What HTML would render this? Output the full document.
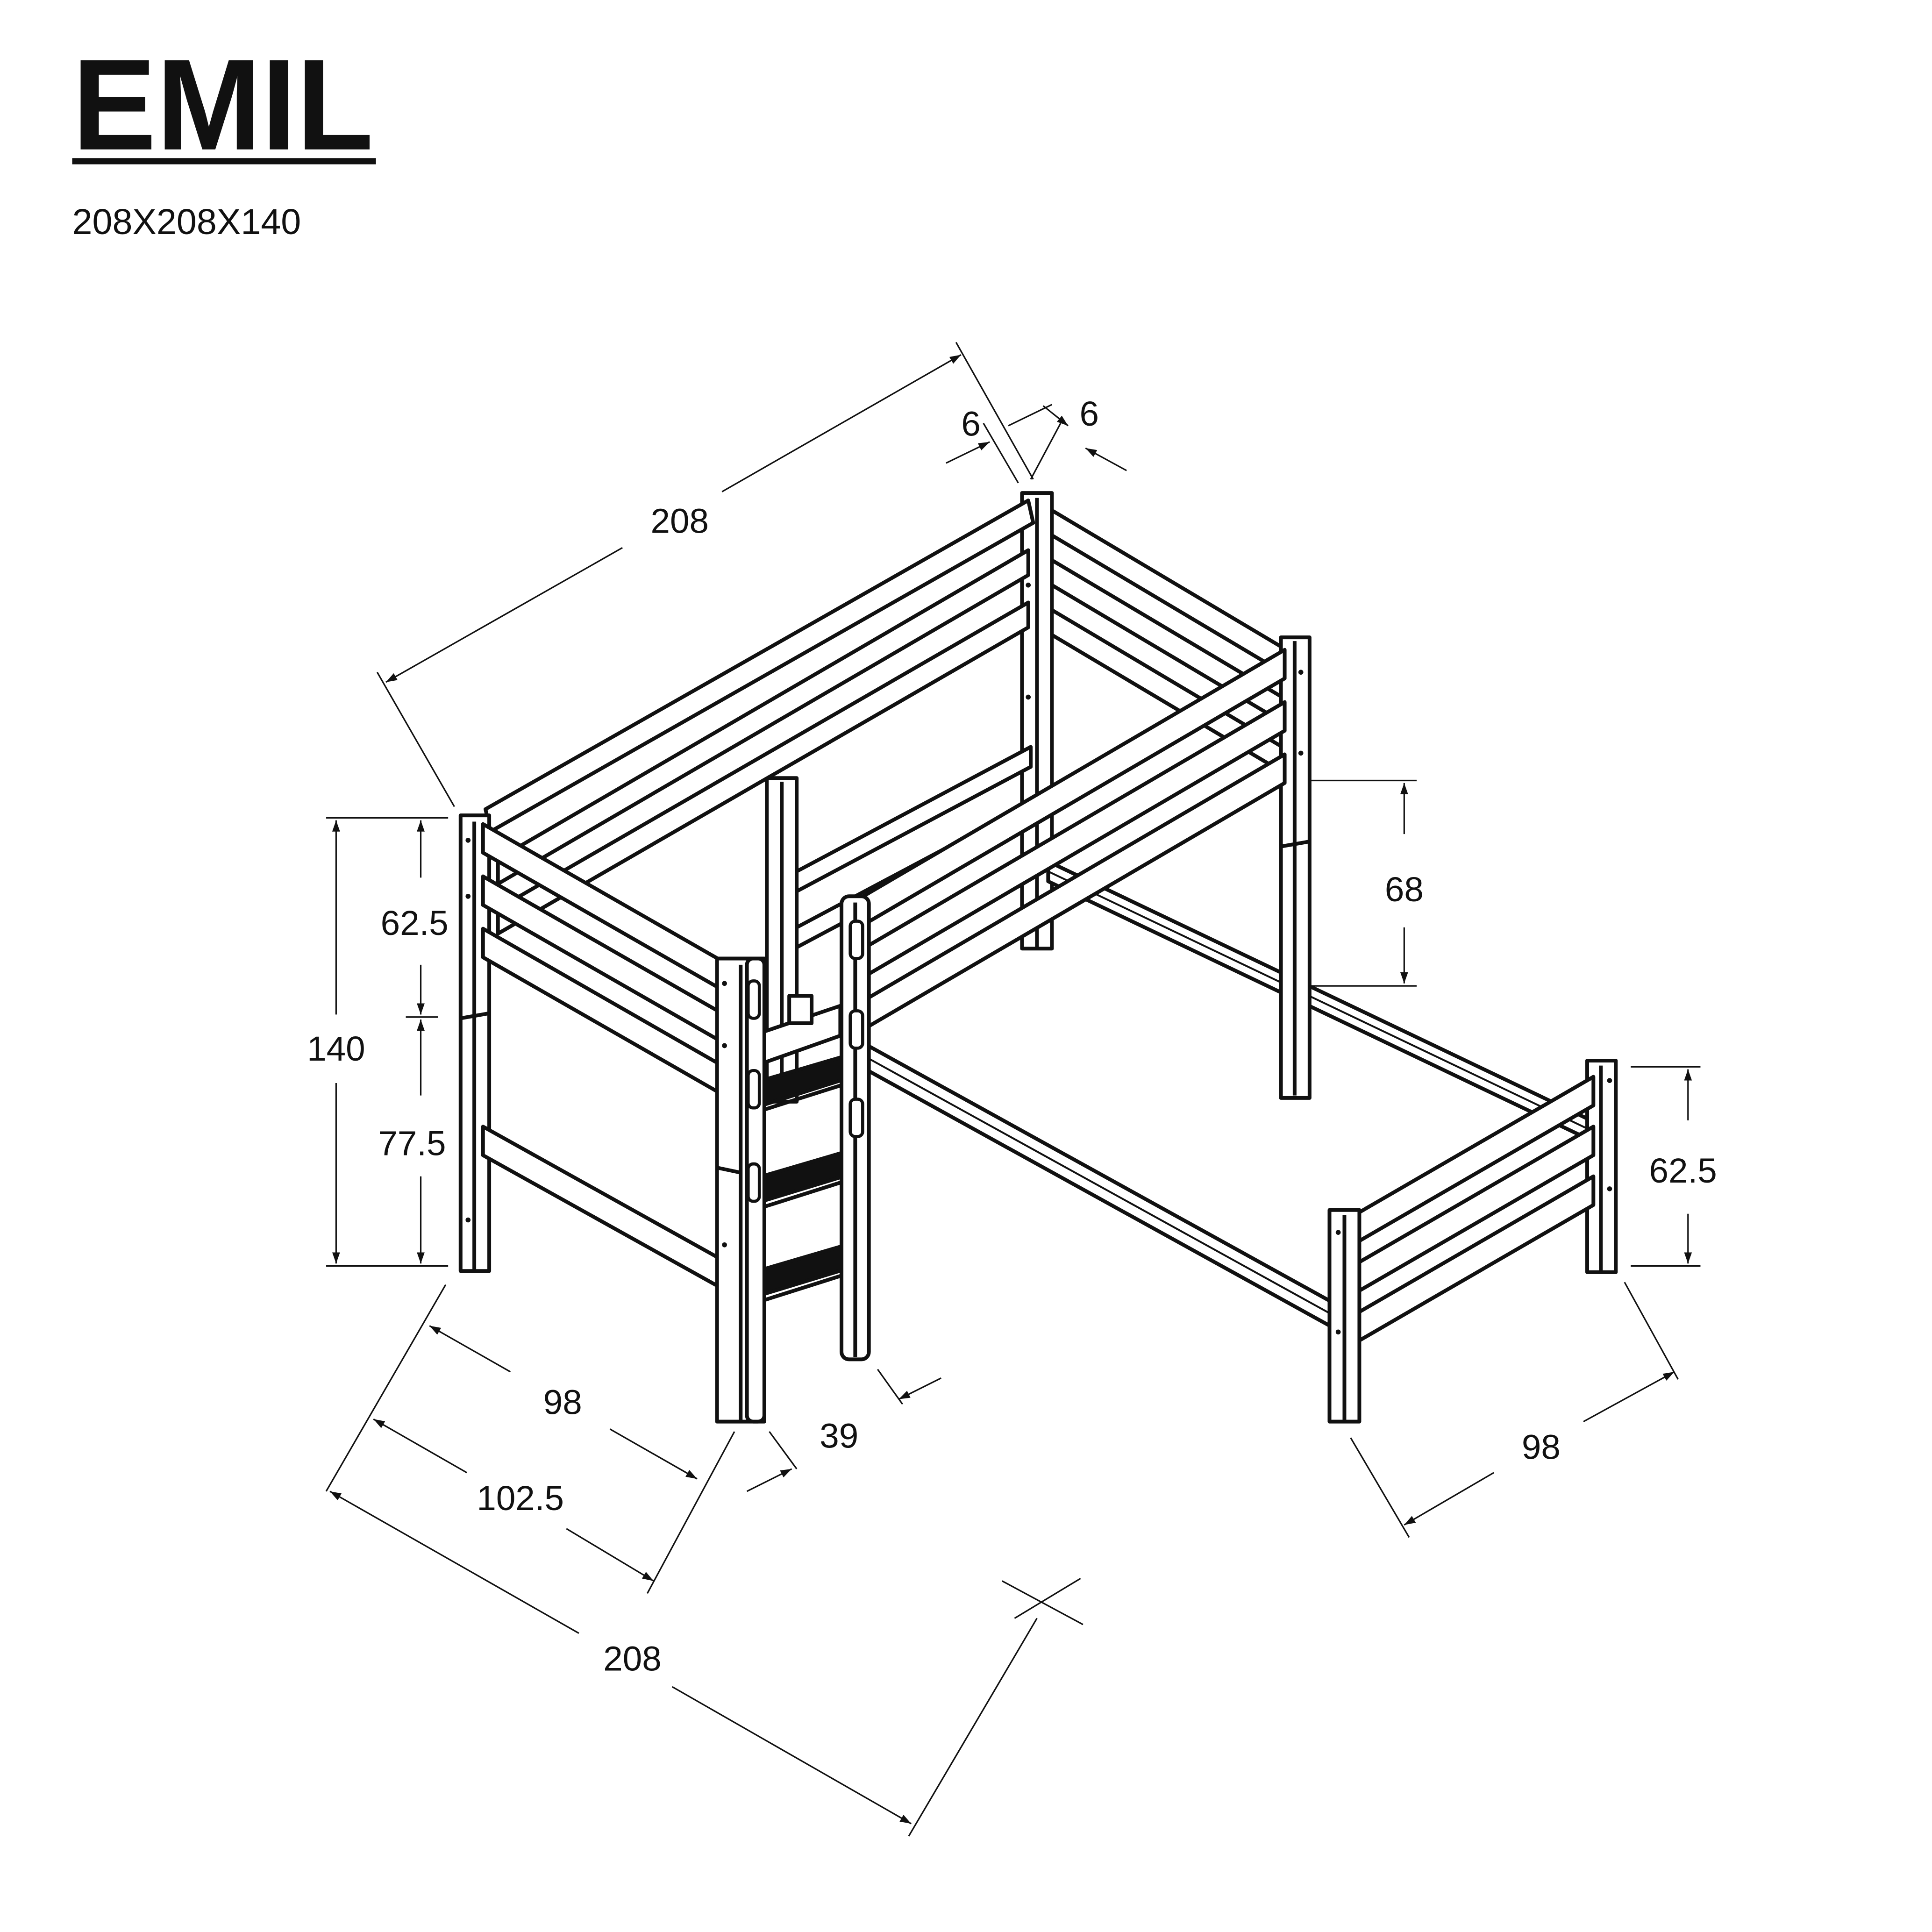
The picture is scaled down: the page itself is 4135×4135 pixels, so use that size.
<!DOCTYPE html>
<html><head><meta charset="utf-8"><style>
html,body{margin:0;padding:0;background:#fff}
svg{display:block}
text{font-family:"Liberation Sans",sans-serif;fill:#111}
</style></head><body>
<svg width="4135" height="4135" viewBox="0 0 1552 1552" xmlns="http://www.w3.org/2000/svg">
<defs>
<marker id="a" viewBox="0 0 10 10" refX="10" refY="5" markerWidth="9" markerHeight="9" markerUnits="userSpaceOnUse" orient="auto-start-reverse"><path d="M0,1.5 L10,5 L0,8.5z" fill="#111"/></marker>
</defs>
<rect width="1552" height="1552" fill="#fff"/>
<text x="58" y="120" font-size="104" font-weight="bold" textLength="242" lengthAdjust="spacingAndGlyphs">EMIL</text>
<rect x="58" y="127" width="244" height="5" fill="#111"/>
<text x="58" y="188" font-size="29">208X208X140</text>

<g stroke="#111" stroke-width="3" fill="#fff" stroke-linejoin="round">
<!-- back post -->
<rect x="821" y="396" width="24" height="366"/>
<line x1="833" y1="400" x2="833" y2="762"/>
<!-- lower bed back long rail -->
<polygon points="842,692 1278,900 1278,916 842,708"/>
<line x1="842" y1="700" x2="1278" y2="908" stroke-width="1.5"/>
<!-- right side rails of loft -->
<polygon points="845,410 1030,520 1030,540 845,430"/>
<polygon points="845,450 1030,560 1030,580 845,470"/>
<polygon points="845,490 1030,600 1030,620 845,510"/>
<!-- right post -->
<rect x="1029" y="512" width="23" height="370"/>
<line x1="1040" y1="515" x2="1040" y2="880"/>
<line x1="1029" y1="680" x2="1052" y2="676"/>
<!-- inner post -->
<rect x="616" y="625" width="24" height="260"/>
<line x1="628" y1="628" x2="628" y2="885"/>
<!-- inner rails behind -->
<polygon points="640,700 828,600 828,616 640,716"/>
<polygon points="640,745 828,645 828,661 640,761"/>
<!-- left long rails -->
<polygon points="390,650 826,402 830,420 394,668"/>
<polygon points="400,690 826,442 826,462 400,710"/>
<polygon points="400,730 826,484 826,504 400,750"/>
<!-- left post -->
<rect x="370" y="655" width="23" height="366"/>
<line x1="381" y1="660" x2="381" y2="1020"/>
<line x1="370" y1="818" x2="393" y2="814"/>
<!-- left short end rails -->
<polygon points="388,662 580,772 580,795 388,685"/>
<polygon points="388,704 580,814 580,837 388,727"/>
<polygon points="388,746 580,856 580,879 388,769"/>
<polygon points="388,905 580,1012 580,1035 388,928"/>
<!-- lower bed front long rail -->
<polygon points="690,836 1070,1046 1070,1066 690,856"/>
<line x1="690" y1="846" x2="1070" y2="1056" stroke-width="1.5"/>
<!-- lower bed head post + rails -->
<rect x="1275" y="852" width="23" height="170"/>
<line x1="1286" y1="856" x2="1286" y2="1022"/>
<polygon points="1090,975 1280,865 1280,888 1090,998"/>
<polygon points="1090,1015 1280,905 1280,928 1090,1038"/>
<polygon points="1090,1055 1280,945 1280,968 1090,1078"/>
<!-- foot post -->
<rect x="1068" y="972" width="24" height="170"/>
<line x1="1080" y1="976" x2="1080" y2="1142"/>
<!-- front long rails of loft -->
<polygon points="690,722 1032,522 1032,545 690,745"/>
<polygon points="690,764 1032,564 1032,587 690,787"/>
<polygon points="690,806 1032,606 1032,629 690,829"/>
<!-- ladder front post -->
<rect x="576" y="770" width="38" height="372"/>
<line x1="595" y1="775" x2="595" y2="1142"/>
<line x1="576" y1="938" x2="595" y2="942"/>
<!-- ladder hand rail -->
<polygon points="610,830 675,808 675,832 610,855"/>
<rect x="634" y="800" width="18" height="22"/>
<!-- steps -->
<polygon points="612,868 680,848 694,852 694,862 612,888" fill="#111"/>
<polygon points="612,945 680,925 694,930 694,940 612,965" fill="#111"/>
<polygon points="612,1020 680,1000 694,1005 694,1015 612,1040" fill="#111"/>
<line x1="612" y1="892" x2="694" y2="866"/>
<line x1="612" y1="970" x2="694" y2="944"/>
<line x1="612" y1="1045" x2="694" y2="1019"/>
<!-- ladder stringers -->
<rect x="600" y="770" width="14" height="372" rx="5"/>
<rect x="676" y="720" width="22" height="372" rx="6"/>
<line x1="687" y1="725" x2="687" y2="1090"/>
<rect x="683" y="740" width="10" height="30" rx="4" stroke-width="2.5"/>
<rect x="683" y="812" width="10" height="30" rx="4" stroke-width="2.5"/>
<rect x="683" y="883" width="10" height="30" rx="4" stroke-width="2.5"/>
<rect x="601" y="788" width="9" height="30" rx="4" stroke-width="2.5"/>
<rect x="601" y="860" width="9" height="30" rx="4" stroke-width="2.5"/>
<rect x="601" y="935" width="9" height="30" rx="4" stroke-width="2.5"/>
</g>
<g fill="#111">
<circle cx="376" cy="675" r="2"/><circle cx="376" cy="720" r="2"/><circle cx="376" cy="980" r="2"/>
<circle cx="582" cy="790" r="2"/><circle cx="582" cy="840" r="2"/><circle cx="582" cy="1000" r="2"/>
<circle cx="1045" cy="540" r="2"/><circle cx="1045" cy="605" r="2"/>
<circle cx="1293" cy="868" r="2"/><circle cx="1293" cy="955" r="2"/>
<circle cx="1075" cy="990" r="2"/><circle cx="1075" cy="1070" r="2"/>
<circle cx="826" cy="470" r="2"/><circle cx="826" cy="560" r="2"/>
</g>

<g stroke="#111" stroke-width="1.2" fill="none">
<!-- top 208 -->
<line x1="310" y1="548" x2="500" y2="440" marker-start="url(#a)"/>
<line x1="580" y1="395" x2="772" y2="285" marker-end="url(#a)"/>
<line x1="303" y1="540" x2="365" y2="648"/>
<line x1="768" y1="275" x2="830" y2="385"/>
<!-- 6 6 -->
<line x1="790" y1="340" x2="818" y2="388"/>
<line x1="852" y1="340" x2="828" y2="385"/>
<line x1="760" y1="372" x2="795" y2="355" marker-end="url(#a)"/>
<line x1="810" y1="342" x2="845" y2="325"/>
<line x1="838" y1="326" x2="858" y2="342" marker-end="url(#a)"/>
<line x1="905" y1="378" x2="872" y2="360" marker-end="url(#a)"/>
<!-- 140 -->
<line x1="262" y1="657" x2="360" y2="657"/>
<line x1="262" y1="1017" x2="360" y2="1017"/>
<line x1="326" y1="817" x2="352" y2="817"/>
<line x1="270" y1="659" x2="270" y2="815" marker-start="url(#a)"/>
<line x1="270" y1="870" x2="270" y2="1015" marker-end="url(#a)"/>
<line x1="338" y1="659" x2="338" y2="705" marker-start="url(#a)"/>
<line x1="338" y1="775" x2="338" y2="815" marker-end="url(#a)"/>
<line x1="338" y1="819" x2="338" y2="880" marker-start="url(#a)"/>
<line x1="338" y1="945" x2="338" y2="1015" marker-end="url(#a)"/>
<!-- 68 -->
<line x1="1052" y1="627" x2="1138" y2="627"/>
<line x1="1052" y1="792" x2="1138" y2="792"/>
<line x1="1128" y1="629" x2="1128" y2="670" marker-start="url(#a)"/>
<line x1="1128" y1="745" x2="1128" y2="790" marker-end="url(#a)"/>
<!-- 62.5 right -->
<line x1="1310" y1="857" x2="1366" y2="857"/>
<line x1="1310" y1="1017" x2="1366" y2="1017"/>
<line x1="1356" y1="859" x2="1356" y2="900" marker-start="url(#a)"/>
<line x1="1356" y1="975" x2="1356" y2="1015" marker-end="url(#a)"/>
<!-- left 98 / 102.5 / 208 -->
<line x1="358" y1="1032" x2="262" y2="1198"/>
<line x1="590" y1="1150" x2="520" y2="1280"/>
<line x1="345" y1="1065" x2="410" y2="1102" marker-start="url(#a)"/>
<line x1="490" y1="1148" x2="560" y2="1188" marker-end="url(#a)"/>
<line x1="300" y1="1140" x2="375" y2="1183" marker-start="url(#a)"/>
<line x1="455" y1="1228" x2="525" y2="1270" marker-end="url(#a)"/>
<line x1="265" y1="1198" x2="465" y2="1312" marker-start="url(#a)"/>
<line x1="540" y1="1355" x2="732" y2="1465" marker-end="url(#a)"/>
<line x1="833" y1="1300" x2="730" y2="1475"/>
<line x1="805" y1="1270" x2="870" y2="1305"/>
<line x1="815" y1="1300" x2="868" y2="1268"/>
<!-- 39 -->
<line x1="618" y1="1150" x2="640" y2="1180"/>
<line x1="705" y1="1100" x2="725" y2="1128"/>
<line x1="600" y1="1198" x2="636" y2="1180" marker-end="url(#a)"/>
<line x1="756" y1="1107" x2="722" y2="1124" marker-end="url(#a)"/>
<!-- right 98 -->
<line x1="1085" y1="1155" x2="1132" y2="1235"/>
<line x1="1305" y1="1030" x2="1348" y2="1108"/>
<line x1="1128" y1="1225" x2="1200" y2="1183" marker-start="url(#a)"/>
<line x1="1272" y1="1142" x2="1345" y2="1102" marker-end="url(#a)"/>
</g>
<g font-size="28" text-anchor="middle">
<text x="546" y="428">208</text>
<text x="780" y="350">6</text>
<text x="875" y="342">6</text>
<text x="270" y="852">140</text>
<text x="333" y="751">62.5</text>
<text x="331" y="928">77.5</text>
<text x="1128" y="724">68</text>
<text x="1352" y="950">62.5</text>
<text x="452" y="1136">98</text>
<text x="418" y="1213">102.5</text>
<text x="508" y="1342">208</text>
<text x="674" y="1163">39</text>
<text x="1238" y="1172">98</text>
</g>
</svg>
</body></html>
